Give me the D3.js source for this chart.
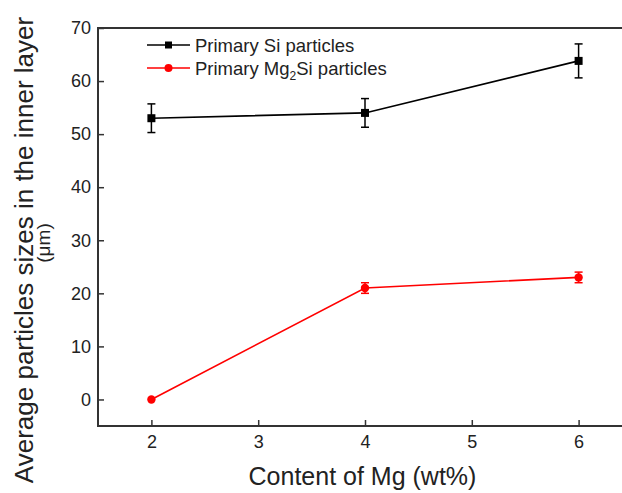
<!DOCTYPE html>
<html>
<head>
<meta charset="utf-8">
<script src="https://cdn.jsdelivr.net/npm/d3@7"></script>
<style>
  body { margin: 0; background: #fff; overflow: hidden; }
  text { font-family: "Liberation Sans", Arial, sans-serif; fill: #222; }
</style>
</head>
<body>
<div id="plot"></div>
<script>
// data
var mgContent = [2, 4, 6];
var siSize = [53, 54, 63.8];
var siErr = [2.7, 2.7, 3.2];
var mg2siSize = [0, 21, 23];
var mg2siErr = [0, 1, 1];
var xTicks = [2, 3, 4, 5, 6];
var yTicks = [0, 10, 20, 30, 40, 50, 60, 70];

var margin = {top: 28, right: -10, bottom: 67, left: 98},
    width = 622 - margin.left - margin.right,
    height = 493 - margin.top - margin.bottom;

var svg = d3.select("#plot")
  .append("svg")
    .attr("width", 622)
    .attr("height", 493)
  .append("g")
    .attr("transform", "translate(" + margin.left + "," + margin.top + ")");

var x = d3.scaleLinear().domain([1.5, 6.5]).range([0, width]);
var y = d3.scaleLinear().domain([-5, 70]).range([height, 0]);

// frame
svg.append("rect")
  .attr("x", 0).attr("y", 0)
  .attr("width", width).attr("height", height)
  .attr("fill", "none")
  .attr("stroke", "#333")
  .attr("stroke-width", 2);

// axes with inward ticks
svg.append("g")
  .attr("transform", "translate(0," + height + ")")
  .call(d3.axisBottom(x).tickValues(xTicks).tickSize(-6).tickPadding(9).tickFormat(d3.format("d")));
svg.append("g")
  .call(d3.axisLeft(y).tickValues(yTicks).tickSize(-6).tickPadding(7).tickFormat(d3.format("d")));
svg.selectAll(".domain").remove();
svg.selectAll(".tick line").attr("stroke", "#333").attr("stroke-width", 1.5);
svg.selectAll(".tick text").style("font-size", "18px").attr("fill", "#222");

// axis titles
svg.append("text")
  .attr("text-anchor", "middle")
  .attr("x", 264.5)
  .attr("y", height + 59)
  .style("font-size", "25px")
  .text("Content of Mg (wt%)");

svg.append("text")
  .attr("text-anchor", "middle")
  .attr("transform", "rotate(-90)")
  .attr("x", -222)
  .attr("y", -65)
  .style("font-size", "26px")
  .text("Average particles sizes in the inner layer");

svg.append("text")
  .attr("text-anchor", "middle")
  .attr("transform", "rotate(-90)")
  .attr("x", -215)
  .attr("y", -48)
  .style("font-size", "19px")
  .text("(\u03bcm)");

var line = d3.line()
  .x(function (d) { return x(d.x); })
  .y(function (d) { return y(d.y); });

function series(vals, errs, color, shape) {
  var pts = mgContent.map(function (m, i) { return {x: m, y: vals[i], e: errs[i]}; });
  var g = svg.append("g");
  g.append("path")
    .datum(pts)
    .attr("d", line)
    .attr("fill", "none")
    .attr("stroke", color)
    .attr("stroke-width", 1.6);
  var eb = g.selectAll(".err").data(pts.filter(function (d) { return d.e > 0; })).enter().append("g");
  eb.append("line")
    .attr("x1", function (d) { return x(d.x); }).attr("x2", function (d) { return x(d.x); })
    .attr("y1", function (d) { return y(d.y - d.e); }).attr("y2", function (d) { return y(d.y + d.e); })
    .attr("stroke", color).attr("stroke-width", 1.5);
  [-1, 1].forEach(function (s) {
    eb.append("line")
      .attr("x1", function (d) { return x(d.x) - 4; }).attr("x2", function (d) { return x(d.x) + 4; })
      .attr("y1", function (d) { return y(d.y + s * d.e); }).attr("y2", function (d) { return y(d.y + s * d.e); })
      .attr("stroke", color).attr("stroke-width", 1.5);
  });
  if (shape === "square") {
    g.selectAll("rect").data(pts).enter().append("rect")
      .attr("x", function (d) { return x(d.x) - 4; })
      .attr("y", function (d) { return y(d.y) - 4; })
      .attr("width", 8).attr("height", 8)
      .attr("fill", color);
  } else {
    g.selectAll("circle").data(pts).enter().append("circle")
      .attr("cx", function (d) { return x(d.x); })
      .attr("cy", function (d) { return y(d.y); })
      .attr("r", 4.2)
      .attr("fill", color);
  }
}

series(siSize, siErr, "#000", "square");
series(mg2siSize, mg2siErr, "#f00", "circle");

// legend
var legend = svg.append("g").attr("transform", "translate(49,17)");
legend.append("line").attr("x1", 0).attr("x2", 43).attr("y1", 0).attr("y2", 0).attr("stroke", "#000").attr("stroke-width", 1.6);
legend.append("rect").attr("x", 18).attr("y", -3.5).attr("width", 7).attr("height", 7).attr("fill", "#000");
legend.append("text").attr("x", 48).attr("y", 6.5).style("font-size", "18.5px").text("Primary Si particles");
legend.append("line").attr("x1", 0).attr("x2", 43).attr("y1", 23).attr("y2", 23).attr("stroke", "#f00").attr("stroke-width", 1.6);
legend.append("circle").attr("cx", 21.5).attr("cy", 23).attr("r", 4).attr("fill", "#f00");
var t2 = legend.append("text").attr("x", 48).attr("y", 29.5).style("font-size", "18.5px");
t2.append("tspan").text("Primary Mg");
t2.append("tspan").attr("dy", 5).style("font-size", "12px").text("2");
t2.append("tspan").attr("dy", -5).text("Si particles");
</script>
</body>
</html>
